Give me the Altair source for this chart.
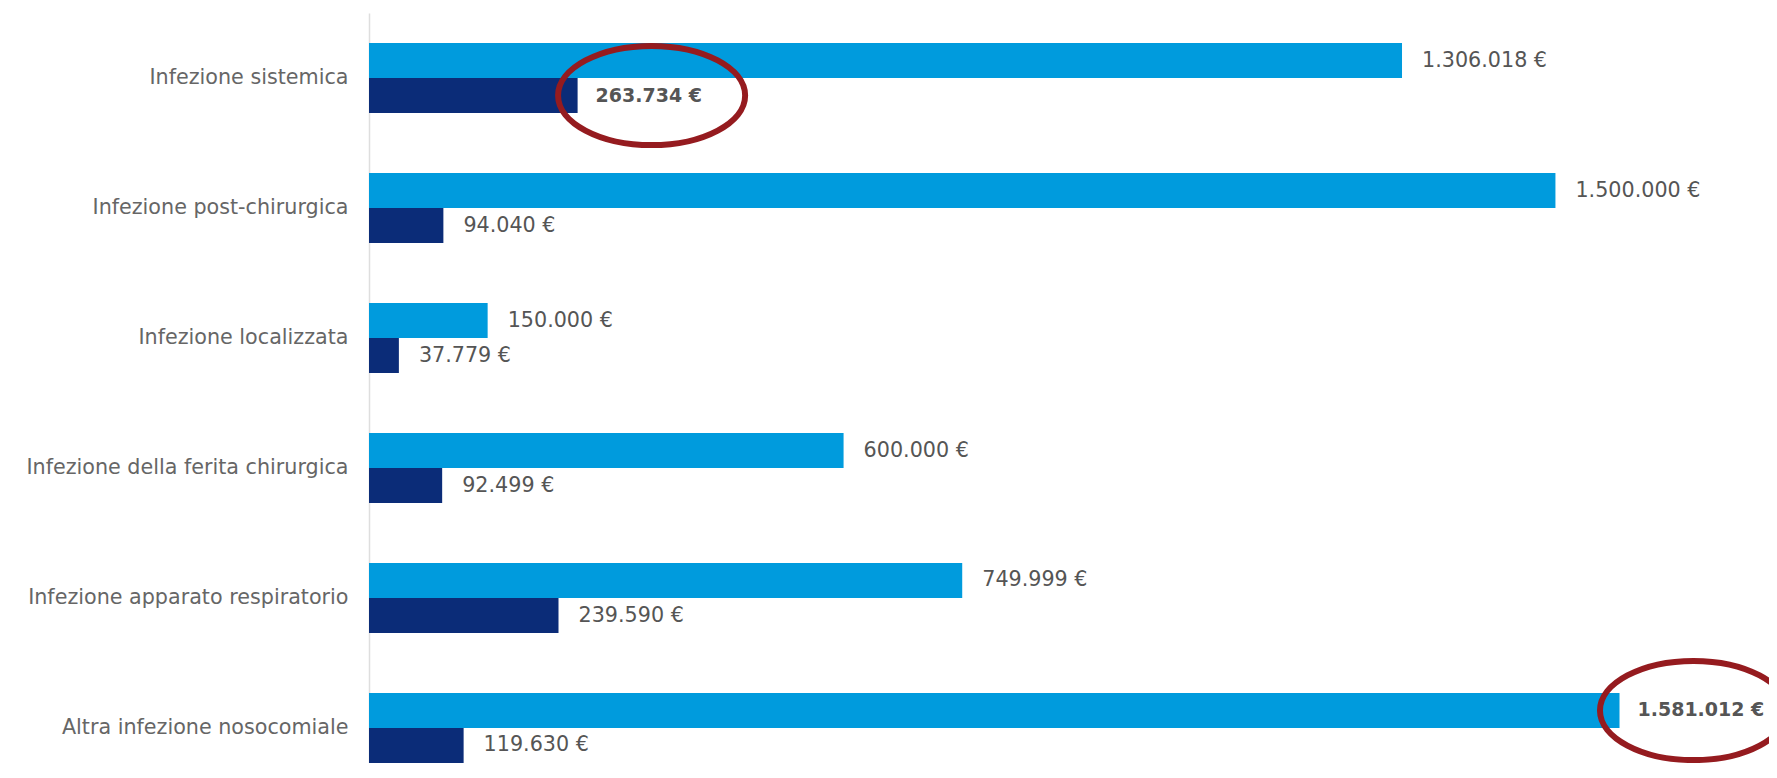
import altair as alt
import pandas as pd

categorie = [
    "Infezione sistemica",
    "Infezione post-chirurgica",
    "Infezione localizzata",
    "Infezione della ferita chirurgica",
    "Infezione apparato respiratorio",
    "Altra infezione nosocomiale",
]
serie_chiara = [1306018, 1500000, 150000, 600000, 749999, 1581012]
serie_scura = [263734, 94040, 37779, 92499, 239590, 119630]
nomi_serie = ["Serie 1", "Serie 2"]
evidenziati = [("Infezione sistemica", "Serie 2"), ("Altra infezione nosocomiale", "Serie 1")]

righe = []
for c, a, b in zip(categorie, serie_chiara, serie_scura):
    for s, v in ((nomi_serie[0], a), (nomi_serie[1], b)):
        righe.append({
            "categoria": c,
            "serie": s,
            "valore": v,
            "etichetta": f"{v:,}".replace(",", ".") + " €",
            "evidenza": (c, s) in evidenziati,
        })
df = pd.DataFrame(righe)

FONT = "DejaVu Sans"
ELLISSE = "M -1 0 A 1 0.53 0 1 0 1 0 A 1 0.53 0 1 0 -1 0 Z"

y = alt.Y(
    "categoria:N",
    sort=categorie,
    scale=alt.Scale(paddingInner=0.4615, paddingOuter=0.1154, align=1),
    axis=alt.Axis(
        title=None, ticks=False, labelFontSize=20.7, labelColor="#666666",
        labelFont=FONT, labelPadding=21, domainColor="#dedede", domainWidth=1.5,
        labelLimit=400,
    ),
)
yo = alt.YOffset("serie:N", sort=nomi_serie, scale=alt.Scale(paddingInner=0, paddingOuter=0))
x = alt.X("valore:Q", scale=alt.Scale(domain=[0, 1770000], nice=False), axis=None)

base = alt.Chart(df).encode(x=x, y=y, yOffset=yo)

barre = base.mark_bar().encode(
    color=alt.Color("serie:N", scale=alt.Scale(domain=nomi_serie, range=["#009BDD", "#0B2C78"]), legend=None)
)
etichette = base.transform_filter("!datum.evidenza").mark_text(
    align="left", baseline="middle", dx=20, font=FONT, fontSize=20.7, color="#555555"
).encode(text="etichetta:N")
etichette_bold = base.transform_filter("datum.evidenza").mark_text(
    align="left", baseline="middle", dx=18, font=FONT, fontSize=19, fontWeight="bold", color="#555555"
).encode(text="etichetta:N")
ellissi = base.transform_filter("datum.evidenza").mark_point(
    shape=ELLISSE, size=35000, filled=False, color="#951B1F", strokeWidth=6, opacity=1
).encode(xOffset=alt.value(74))

chart = alt.layer(barre, etichette, etichette_bold, ellissi).properties(
    width=1400,
    height=750,
    autosize=alt.AutoSizeParams(type="none"),
    padding={"left": 361, "top": 5, "right": 0, "bottom": 0},
).configure_view(stroke=None)

chart.save("out.html", embed_options={"renderer": "svg", "actions": False})
